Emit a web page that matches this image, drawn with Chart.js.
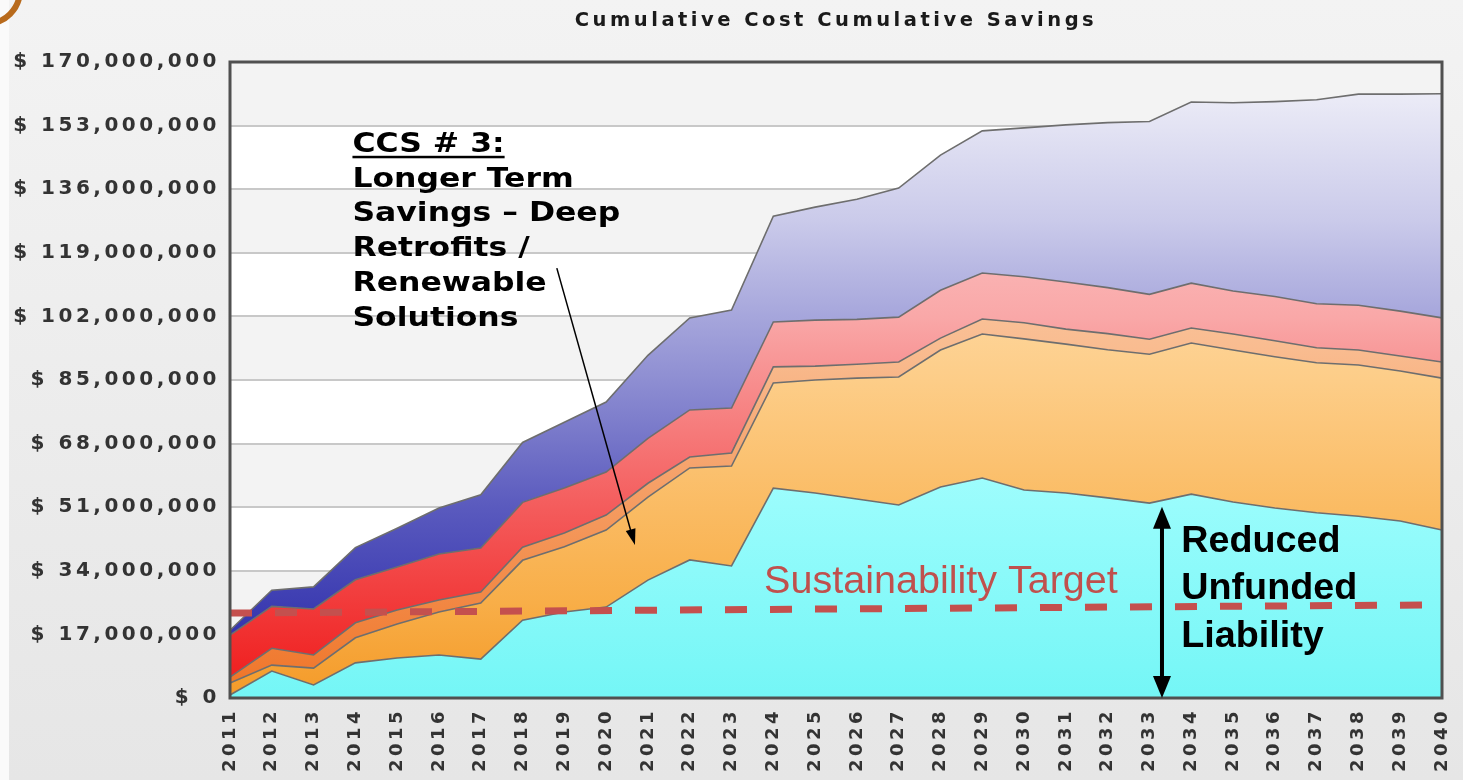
<!DOCTYPE html>
<html lang="en">
<head>
  <meta charset="UTF-8" />
  <title>Cumulative Cost Cumulative Savings</title>
  <script src="https://cdn.jsdelivr.net/npm/chart.js"></script>
  <style>
    html, body { margin: 0; padding: 0; background: #eeeeee; }
    #wrap { width: 1463px; height: 780px; }
  </style>
</head>
<body>
  <div id="wrap"><canvas id="grafico" width="1463" height="780"></canvas></div>

<script>
// values in millions of dollars (each layer on its own, stacked)
const years = ['2011','2012','2013','2014','2015','2016','2017','2018','2019','2020',
  '2021','2022','2023','2024','2025','2026','2027','2028','2029','2030',
  '2031','2032','2033','2034','2035','2036','2037','2038','2039','2040'];

const cyan = [0.8, 7.2, 3.5, 9.4, 10.7, 11.5, 10.4, 20.8, 23.0, 24.3,
  31.5, 36.9, 35.3, 56.1, 54.8, 53.2, 51.6, 56.4, 58.8, 55.6,
  54.8, 53.5, 52.1, 54.5, 52.4, 50.8, 49.5, 48.6, 47.3, 44.9];
const orange = [3.2, 1.6, 4.5, 6.7, 9.1, 11.5, 15.0, 16.0, 17.4, 20.6,
  22.2, 24.6, 26.7, 28.1, 30.2, 32.3, 34.2, 36.6, 38.5, 40.4,
  39.8, 39.6, 39.8, 40.4, 40.6, 40.4, 40.1, 40.4, 40.1, 40.6];
const lightOrange = [1.6, 4.5, 3.5, 4.0, 3.7, 3.2, 2.9, 3.5, 3.7, 4.0,
  3.7, 2.9, 3.5, 4.3, 3.7, 3.7, 4.0, 3.2, 4.0, 4.3,
  4.0, 4.3, 4.0, 4.0, 4.3, 4.3, 4.0, 4.0, 4.0, 4.3];
const red = [11.2, 11.2, 12.3, 11.5, 11.5, 12.3, 11.8, 12.0, 12.0, 11.5,
  12.0, 12.6, 12.0, 12.0, 12.3, 12.0, 12.0, 12.8, 12.3, 12.3,
  12.6, 12.3, 12.0, 12.0, 11.5, 11.8, 11.8, 12.0, 12.0, 11.8];
const blue = [1.3, 4.3, 5.9, 8.6, 10.4, 12.3, 14.2, 16.0, 17.6, 18.7,
  22.2, 24.6, 26.2, 28.3, 30.2, 32.1, 34.5, 36.1, 38.0, 39.8,
  42.0, 44.1, 46.2, 48.4, 50.3, 52.1, 54.5, 56.4, 58.0, 59.9];

// sustainability target, only the two ends
const target = [22.7, null, null, null, null, null, null, null, null, null,
  null, null, null, null, null, null, null, null, null, null,
  null, null, null, null, null, null, null, null, null, 24.9];

const yMax = 170;
const yStep = 17;

// vertical gradients, light at top, strong at bottom
function degrade(stops) {
  return (c) => {
    const area = c.chart.chartArea;
    if (!area) return stops[stops.length - 1][1];
    const g = c.chart.ctx.createLinearGradient(0, area.top, 0, area.bottom);
    stops.forEach(s => g.addColorStop(s[0], s[1]));
    return g;
  };
}

function camada(label, data, stops, fill) {
  return {
    label: label,
    data: data,
    fill: fill,
    backgroundColor: degrade(stops),
    borderColor: '#6e6e6e',
    borderWidth: 1.6,
    pointRadius: 0,
    tension: 0,
    stack: 'main'
  };
}

// the source image is stretched sideways, so chart text gets a bit of spacing
const espaco = {
  id: 'espaco',
  beforeUpdate(chart) { chart.ctx.letterSpacing = '3.5px'; },
  beforeDraw(chart) { chart.ctx.letterSpacing = '3.5px'; }
};

// background panel + alternating bands
const fundo = {
  id: 'fundo',
  beforeDraw(chart) {
    const { ctx, chartArea: a, scales: { y } } = chart;
    ctx.save();
    const g = ctx.createLinearGradient(0, 0, 0, chart.height);
    g.addColorStop(0, '#f3f3f3');
    g.addColorStop(1, '#e6e6e6');
    ctx.fillStyle = g;
    ctx.fillRect(0, 0, chart.width, chart.height);
    ctx.fillStyle = '#fafafa';
    ctx.fillRect(0, 0, 9, chart.height);
    // little orange corner from the slide
    ctx.strokeStyle = '#b86a1c';
    ctx.lineWidth = 6;
    ctx.beginPath();
    ctx.arc(-14, -10, 34, 0, Math.PI / 2);
    ctx.stroke();

    for (let k = 0; k < yMax / yStep; k++) {
      const t = y.getPixelForValue((k + 1) * yStep);
      const b = y.getPixelForValue(k * yStep);
      ctx.fillStyle = k % 2 ? '#f3f3f3' : '#ffffff';
      ctx.fillRect(a.left, t, a.right - a.left, b - t);
    }
    ctx.restore();
  }
};

function seta(ctx, x0, y0, x1, y1, len, wid) {
  const ang = Math.atan2(y1 - y0, x1 - x0);
  ctx.beginPath();
  ctx.moveTo(x1, y1);
  ctx.lineTo(x1 - len * Math.cos(ang) + wid * Math.sin(ang), y1 - len * Math.sin(ang) - wid * Math.cos(ang));
  ctx.lineTo(x1 - len * Math.cos(ang) - wid * Math.sin(ang), y1 - len * Math.sin(ang) + wid * Math.cos(ang));
  ctx.closePath();
  ctx.fill();
}

// text stretched sideways like the reference
function texto(ctx, t, x, y, sx) {
  ctx.save();
  ctx.translate(x, y);
  ctx.scale(sx, 1);
  ctx.fillText(t, 0, 0);
  const w = ctx.measureText(t).width * sx;
  ctx.restore();
  return w;
}

// frame + slide annotations
const notas = {
  id: 'notas',
  afterDatasetsDraw(chart) {
    const { ctx, chartArea: a, scales: { x, y } } = chart;
    ctx.save();
    ctx.letterSpacing = '0px';
    ctx.strokeStyle = '#505050';
    ctx.lineWidth = 3;
    ctx.strokeRect(a.left, a.top, a.right - a.left, a.bottom - a.top);

    // CCS # 3 block
    const linhas = ['CCS # 3:', 'Longer Term', 'Savings \u2013 Deep', 'Retrofits /', 'Renewable', 'Solutions'];
    const lx = x.getPixelForValue(2.93);
    const by = y.getPixelForValue(146);
    ctx.fillStyle = '#000';
    ctx.font = 'bold 26px "DejaVu Sans"';
    ctx.textAlign = 'left';
    ctx.textBaseline = 'alphabetic';
    let w0 = 0;
    linhas.forEach((t, i) => {
      const w = texto(ctx, t, lx, by + i * 34.8, 1.21);
      if (i === 0) w0 = w;
    });
    ctx.fillRect(lx, by + 4, w0, 2.5);

    // thin arrow into the orange layer
    const ax0 = x.getPixelForValue(7.82), ay0 = y.getPixelForValue(114.9);
    const ax1 = x.getPixelForValue(9.69), ay1 = y.getPixelForValue(40.9);
    ctx.strokeStyle = '#000';
    ctx.lineWidth = 1.5;
    ctx.beginPath();
    ctx.moveTo(ax0, ay0);
    ctx.lineTo(ax1 - 3, ay1 - 10);
    ctx.stroke();
    seta(ctx, ax0, ay0, ax1, ay1, 16, 5);

    // sustainability target label
    ctx.fillStyle = '#c0504d';
    ctx.font = '38px "Liberation Sans"';
    texto(ctx, 'Sustainability Target', x.getPixelForValue(12.78), y.getPixelForValue(28.1), 1.04);

    // double arrow
    const dx = x.getPixelForValue(22.3);
    const dt = y.getPixelForValue(51.1), db = y.getPixelForValue(0);
    ctx.strokeStyle = '#000';
    ctx.fillStyle = '#000';
    ctx.lineWidth = 4;
    ctx.beginPath();
    ctx.moveTo(dx, dt + 14);
    ctx.lineTo(dx, db - 14);
    ctx.stroke();
    seta(ctx, dx, db, dx, dt, 22, 9);
    seta(ctx, dx, dt, dx, db, 22, 9);

    ctx.font = 'bold 37px "Liberation Sans"';
    const rx = x.getPixelForValue(22.76);
    ['Reduced', 'Unfunded', 'Liability'].forEach((t, i) => {
      texto(ctx, t, rx, y.getPixelForValue([39.0, 26.5, 13.6][i]), 1.02);
    });
    ctx.restore();
  }
};

const ctx = document.getElementById('grafico').getContext('2d');
const grafico = new Chart(ctx, {
  type: 'line',
  data: {
    labels: years,
    datasets: [
      camada('Base', cyan, [[0, '#d0ffff'], [0.6, '#a4fefe'], [1, '#74f6f6']], 'origin'),
      camada('Orange', orange, [[0, '#fff2dc'], [0.5, '#fdcd88'], [0.85, '#f8ae48'], [1, '#f49a28']], '-1'),
      camada('Light orange', lightOrange, [[0, '#fde2c8'], [0.45, '#f9bc90'], [0.95, '#f07a30'], [1, '#ee7020']], '-1'),
      camada('Red', red, [[0, '#ffe0e0'], [0.4, '#f9a8a8'], [0.7, '#f45c5c'], [0.95, '#f02424'], [1, '#ee1c1c']], '-1'),
      camada('Blue', blue, [[0, '#f4f4fa'], [0.25, '#cacaea'], [0.5, '#8e8ed2'], [0.7, '#5a5abe'], [0.9, '#3434ae'], [1, '#2a2aa6']], '-1'),
      {
        label: 'Sustainability Target',
        data: target,
        stack: 'target',
        order: -1,
        fill: false,
        spanGaps: true,
        borderColor: '#c4504e',
        borderWidth: 7,
        borderDash: [22, 23],
        pointRadius: 0,
        tension: 0
      }
    ]
  },
  options: {
    responsive: false,
    animation: false,
    layout: { padding: { left: 0, right: 21, top: 0, bottom: 0 } },
    plugins: {
      legend: { display: false },
      tooltip: { enabled: false },
      title: {
        display: true,
        text: 'Cumulative Cost Cumulative Savings',
        fullSize: false,
        color: '#1a1a1a',
        font: { family: 'DejaVu Sans', size: 19.5, weight: 'bold', lineHeight: 1.2 },
        padding: { top: 9, bottom: 29.6 }
      }
    },
    scales: {
      x: {
        offset: false,
        grid: { display: false },
        border: { display: false },
        ticks: {
          autoSkip: false,
          minRotation: 90,
          maxRotation: 90,
          padding: 2,
          color: '#333',
          font: { family: 'DejaVu Sans', size: 18, weight: 'bold' }
        },
        afterFit(s) { s.height = 82; s.paddingLeft = 0; s.paddingRight = 0; }
      },
      y: {
        stacked: true,
        min: 0,
        max: yMax,
        grid: { color: '#c8c8c8', lineWidth: 2, drawTicks: false },
        border: { display: false },
        ticks: {
          stepSize: yStep,
          padding: 10,
          color: '#333',
          font: { family: 'DejaVu Sans', size: 20, weight: 'bold' },
          callback: (v) => '$ ' + Math.round(v * 1e6).toLocaleString('en-US')
        },
        afterFit(s) { s.width = 230; }
      }
    }
  },
  plugins: [espaco, fundo, notas]
});
</script>
</body>
</html>
